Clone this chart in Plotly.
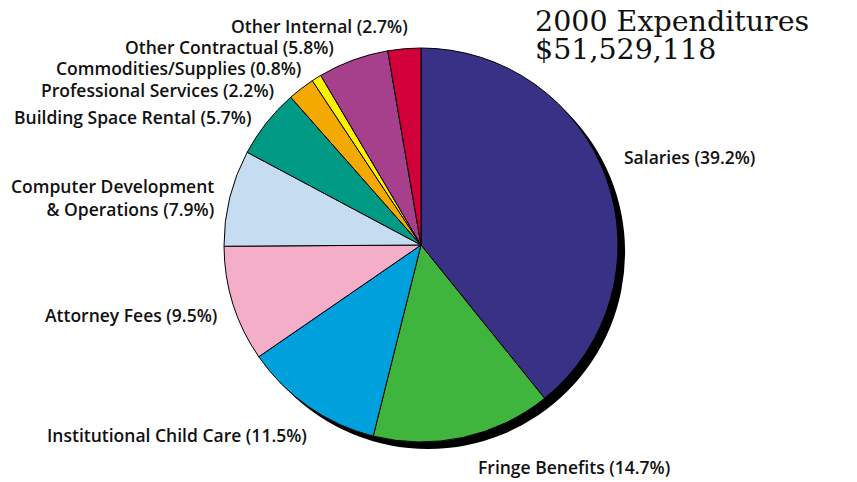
import plotly.graph_objects as go

categories = ["Salaries", "Fringe Benefits", "Institutional Child Care", "Attorney Fees",
              "Computer Development<br>& Operations", "Building Space Rental",
              "Professional Services", "Commodities/Supplies", "Other Contractual", "Other Internal"]
percents = [39.2, 14.7, 11.5, 9.5, 7.9, 5.7, 2.2, 0.8, 5.8, 2.7]
colors = ["#393185", "#3fb53d", "#00a0dc", "#f4aec8", "#c6dcf1", "#009984",
          "#f4a900", "#fff200", "#a63f8c", "#d1003a"]
title_lines = ["2000 Expenditures", "$51,529,118"]

W, H = 857, 482
OFF = 8  # page body margin
cx, cy, r = 421, 245, 197
sdx, sdy = 7, 7

def px(x):
    return (x - OFF) / W

def py(y):
    return 1 - (y - OFF) / H

def dom(x0, y0):
    return dict(x=[px(x0 - r), px(x0 + r)], y=[py(y0 + r), py(y0 - r)])

fig = go.Figure()
fig.add_trace(go.Pie(values=[1], marker=dict(colors=["black"], line=dict(width=0)),
                     domain=dom(cx + sdx, cy + sdy), textinfo="none", hoverinfo="skip",
                     showlegend=False, sort=False))
fig.add_trace(go.Pie(labels=categories, values=percents, marker=dict(colors=colors, line=dict(color="black", width=1)),
                     domain=dom(cx, cy), textinfo="none", sort=False, direction="clockwise",
                     rotation=0, showlegend=False))

# label placement (pixel anchor, x-anchor)
label_pos = {
    "Salaries": (622, 157, "left"),
    "Fringe Benefits": (476, 467, "left"),
    "Institutional Child Care": (45, 435, "left"),
    "Attorney Fees": (219, 315, "right"),
    "Computer Development<br>& Operations": (216, 198, "right"),
    "Building Space Rental": (253, 117, "right"),
    "Professional Services": (276, 90, "right"),
    "Commodities/Supplies": (303, 68, "right"),
    "Other Contractual": (336, 47, "right"),
    "Other Internal": (410, 26, "right"),
}
for cat, p in zip(categories, percents):
    x, y, anc = label_pos[cat]
    fig.add_annotation(x=px(x), y=py(y), xref="paper", yref="paper", xanchor=anc, yanchor="middle",
                       text=f"{cat} ({p}%)", showarrow=False, align="right" if anc == "right" else "left",
                       font=dict(family="Open Sans", size=17.5, color="#111", weight=600))

for line, ty in zip(title_lines, [21, 49]):
    fig.add_annotation(x=px(533), y=py(ty), xref="paper", yref="paper", xanchor="left", yanchor="middle",
                       text=line, showarrow=False, align="left",
                       font=dict(family="DejaVu Serif", size=28.5, color="#111"))

fig.update_layout(width=W, height=H, margin=dict(l=0, r=0, t=0, b=0),
                  paper_bgcolor="white", plot_bgcolor="white")
fig.write_html("out.html")
